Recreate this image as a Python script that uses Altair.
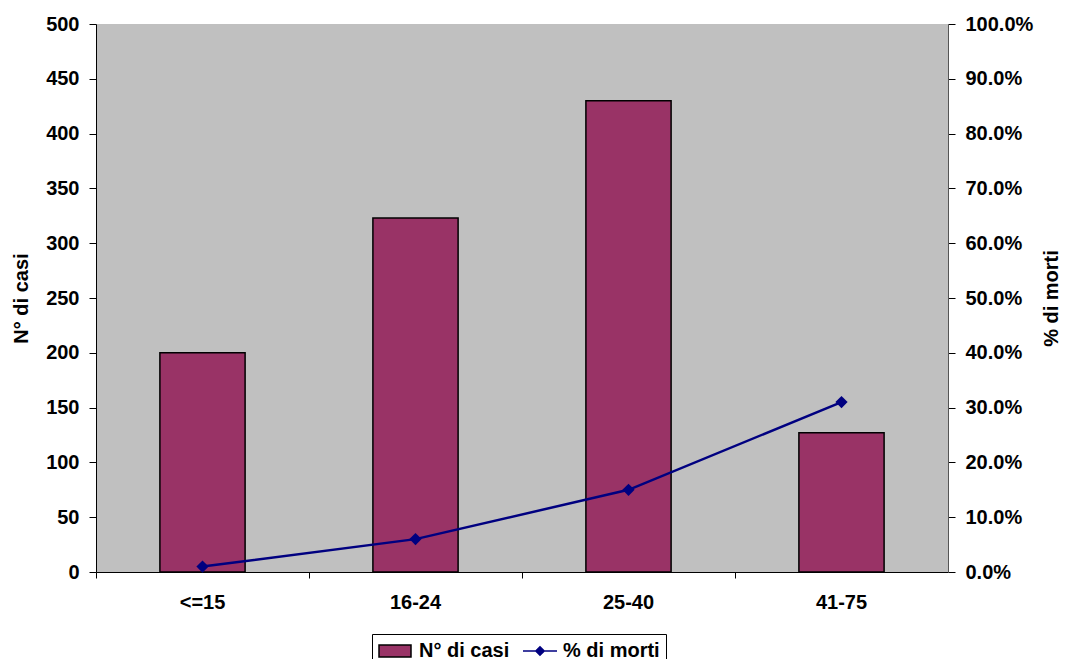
import altair as alt
import pandas as pd

categories = ["<=15", "16-24", "25-40", "41-75"]
casi = [200, 323, 430, 127]
morti = [0.01, 0.06, 0.15, 0.31]
left_ticks = [0, 50, 100, 150, 200, 250, 300, 350, 400, 450, 500]
right_ticks = [0.0, 0.1, 0.2, 0.3, 0.4, 0.5, 0.6, 0.7, 0.8, 0.9, 1.0]
series = ["N° di casi", "% di morti"]

df = pd.DataFrame({"cat": categories, "casi": casi, "morti": morti})
df["s_bar"] = series[0]
df["s_line"] = series[1]

FONT = "Liberation Sans"
BAR = "#993366"
NAVY = "#000080"
rect_path = "M-1,-0.6H2.2V0.6H-1Z"
line_diamond = "M-1,0H2.4M0.7,-0.42L1.12,0L0.7,0.42L0.28,0Z"

leg = alt.Legend(
    title=None, orient="none", legendX=276, legendY=610, direction="horizontal",
    strokeColor="black", fillColor="white", padding=6,
    labelFont=FONT, labelFontSize=20, labelFontWeight="bold", labelColor="black",
    labelOffset=19, columnPadding=10, symbolSize=400, symbolStrokeWidth=1.5,
    symbolOpacity=1, labelLimit=300,
)

x = alt.X(
    "cat:N", sort=categories,
    scale=alt.Scale(paddingInner=0, paddingOuter=0),
    axis=alt.Axis(title=None, bandPosition=0, labelAngle=0, labelPadding=14,
                  tickSize=6, tickColor="black", domainColor="black"),
)

bars = alt.Chart(df).mark_bar(
    stroke="black", strokeWidth=1.5, width=alt.RelativeBandSize(0.4)
).encode(
    x=x,
    y=alt.Y("casi:Q", scale=alt.Scale(domain=[0, 500]),
            axis=alt.Axis(values=left_ticks, title="N° di casi", orient="left",
                          tickSize=7, labelPadding=10, titlePadding=14,
                          domainColor="black", tickColor="black")),
    fill=alt.Fill("s_bar:N", scale=alt.Scale(domain=series, range=[BAR, NAVY]), legend=leg),
)

ym = alt.Y("morti:Q", scale=alt.Scale(domain=[0, 1]),
           axis=alt.Axis(values=right_ticks, format=".1%", title="% di morti", orient="right",
                         tickSize=7, labelPadding=10, titlePadding=29, titleAngle=270,
                         domainColor="#555555", tickColor="black"))

line = alt.Chart(df).mark_line(strokeWidth=2.5).encode(
    x=x, y=ym,
    stroke=alt.Stroke("s_line:N", scale=alt.Scale(domain=series, range=["black", NAVY]), legend=leg),
)
points = alt.Chart(df).mark_point(shape="diamond", filled=True, size=150, color=NAVY, opacity=1).encode(
    x=x, y=ym
)
ghost = alt.Chart(df).mark_point(opacity=0).encode(
    x=x, y=ym,
    shape=alt.Shape("s_line:N", scale=alt.Scale(domain=series, range=[rect_path, line_diamond]), legend=leg),
)

chart = alt.layer(bars, alt.layer(line, points, ghost)).resolve_scale(
    y="independent"
).properties(
    width=852, height=548,
    padding={"left": 96, "top": 24, "right": 119, "bottom": 87},
    autosize=alt.AutoSizeParams(type="none"),
).configure_view(
    fill="#C0C0C0", stroke="#C0C0C0"
).configure_axis(
    grid=False, labelFont=FONT, labelFontSize=20, labelFontWeight="bold", labelColor="black",
    titleFont=FONT, titleFontSize=20, titleFontWeight="bold", titleColor="black",
)

chart.save("out.html", embed_options={"renderer": "svg", "actions": False})
